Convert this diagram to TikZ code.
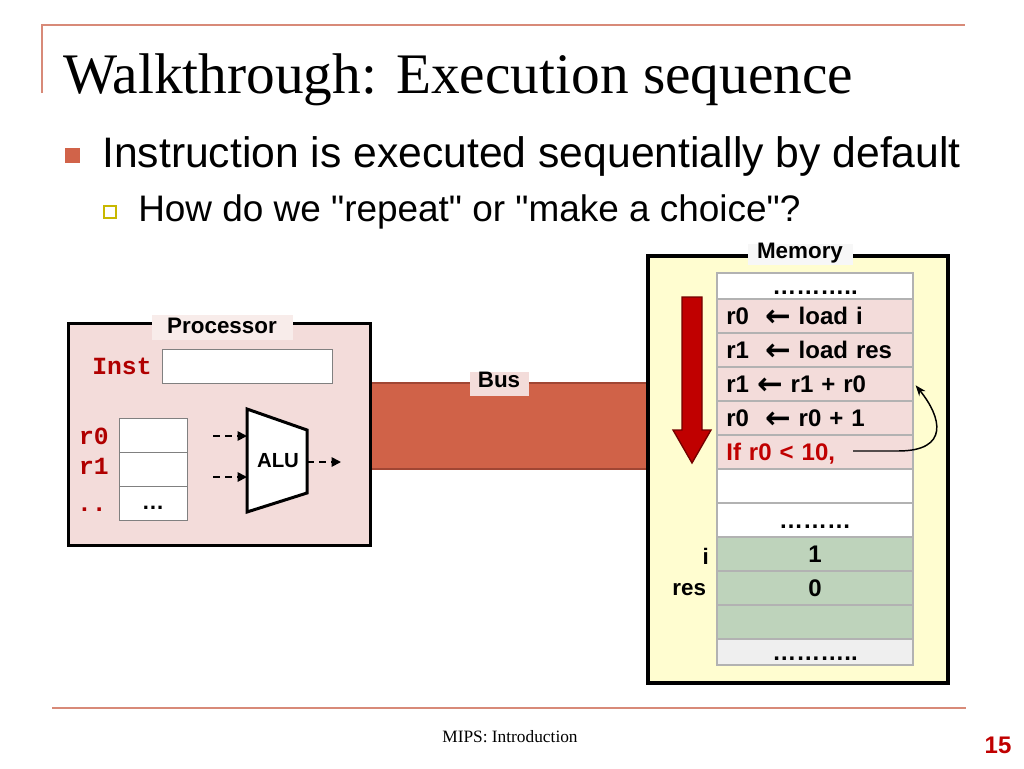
\documentclass[tikz,border=0pt]{standalone}
\usepackage{fontspec}
\setmainfont{Liberation Serif}
\setsansfont{Liberation Sans}
\setmonofont{Liberation Mono}
\newfontfamily\arrowfont{DejaVu Sans}
\usetikzlibrary{positioning,arrows.meta}
\definecolor{LineOrange}{RGB}{216,138,120}
\definecolor{BulletRed}{RGB}{209,99,73}
\definecolor{SubYellow}{RGB}{200,184,0}
\definecolor{ProcPink}{RGB}{243,220,218}
\definecolor{TabPink}{RGB}{248,236,234}
\definecolor{BusOrange}{RGB}{208,98,72}
\definecolor{BusEdge}{RGB}{160,70,52}
\definecolor{MemYellow}{RGB}{255,253,208}
\definecolor{CellGreen}{RGB}{190,211,187}
\definecolor{CellGray}{RGB}{239,239,239}
\definecolor{InstRed}{RGB}{176,0,0}
\definecolor{ArrowRed}{RGB}{192,0,0}
\newcommand\larr{\raisebox{-1.5pt}{\arrowfont\fontsize{23}{23}\selectfont ←}}
\begin{document}
\begin{tikzpicture}[x=0.75pt,y=-0.75pt,
    lbl/.style={font=\sffamily\bfseries\fontsize{16.8}{20}\selectfont, inner sep=0},
    reglbl/.style={font=\ttfamily\bfseries\fontsize{18.5}{22}\selectfont, text=InstRed, inner sep=0},
    cell/.style={draw=gray!60, line width=1pt, text width=133pt, inner xsep=7pt, inner ysep=0, outer sep=0pt,
        minimum height=25.5pt, text height=15pt, text depth=3pt, align=center,
        font=\sffamily\bfseries\fontsize{18}{21}\selectfont},
    dasharrow/.style={line width=1.3pt, dash pattern=on 5pt off 4pt, -{Triangle[length=7pt,width=7pt]}}]
    \useasboundingbox (0,0) rectangle (1024,768);
    % header
    \draw[LineOrange, line width=1.5pt] (42,93) -- (42,25) -- (965,25);
    \node[anchor=base west, inner sep=0, font=\fontsize{43}{50}\selectfont] (Title) at (63,93) {Walkthrough: Execution sequence};
    \fill[BulletRed] (65,148) rectangle (80,163);
    \node[anchor=base west, inner sep=0, font=\sffamily\fontsize{32}{38}\selectfont] (PointA) at (102,167) {Instruction is executed sequentially by default};
    \draw[SubYellow, line width=1.3pt] (104,206) rectangle (116,218);
    \node[anchor=base west, inner sep=0, font=\sffamily\fontsize{27.7}{34}\selectfont] (PointB) at (138,221)
        {How do we \textquotedbl repeat\textquotedbl\ or \textquotedbl make a choice\textquotedbl ?};
    % bus
    \fill[BusOrange] (360,383) rectangle (660,469);
    \draw[BusEdge, line width=1.5pt] (360,383) -- (660,383) (360,469) -- (660,469);
    \fill[ProcPink] (470,372) rectangle (529,396);
    \node[lbl, anchor=base] (BusLbl) at (499,387) {Bus};
    % processor
    \draw[fill=ProcPink, line width=2.25pt] (68,323) rectangle (370,545);
    \fill[TabPink] (152,315) rectangle (293,340);
    \node[lbl, anchor=base] (ProcLbl) at (222,333) {Processor};
    \node[reglbl] (InstLbl) at (122,366) {Inst};
    \draw[fill=white, draw=gray] (162,349) rectangle (332,383);
    \foreach \r/\y in {0/418,1/452,2/486}
        \draw[fill=white, draw=gray] (119,\y) rectangle (187,\y+34);
    \node[reglbl] (RegZero) at (94,436) {r0};
    \node[reglbl] (RegOne) at (94,466) {r1};
    \node[reglbl, anchor=base] (RegMore) at (92,511) {..};
    \node[lbl] (RegDots) at (153,508) {…};
    % alu
    \draw[fill=white, line width=2.25pt] (247,409) -- (307,430) -- (307,493) -- (247,512) -- cycle;
    \node[lbl, font=\sffamily\bfseries\fontsize{15.3}{18}\selectfont] (ALU) at (278,461) {ALU};
    \coordinate (AluInA) at (247,436);
    \coordinate (AluInB) at (247,477);
    \coordinate (AluOut) at (307,462);
    \draw[dasharrow] (213,436) -- (AluInA);
    \draw[dasharrow] (213,477) -- (AluInB);
    \draw[dasharrow] (AluOut) -- (341,462);
    % memory
    \draw[fill=MemYellow, line width=2.5pt] (648,256) rectangle (948,683);
    \fill[white!94!gray] (748,244) rectangle (853,265);
    \node[lbl, anchor=base] (MemLbl) at (800,258) {Memory};
    \node[cell, fill=white, minimum height=19.5pt] (m1) at (815,286) {………..};
    \node[cell, fill=ProcPink, align=left, below=0pt of m1] (m2) {r0\ \ \larr\ load i};
    \node[cell, fill=ProcPink, align=left, below=0pt of m2] (m3) {r1\ \ \larr\ load res};
    \node[cell, fill=ProcPink, align=left, below=0pt of m3] (m4) {r1 \larr\ r1 + r0};
    \node[cell, fill=ProcPink, align=left, below=0pt of m4] (m5) {r0\ \ \larr\ r0 + 1};
    \node[cell, fill=ProcPink, align=left, text=ArrowRed, below=0pt of m5] (m6) {If r0 < 10,};
    \node[cell, fill=white, below=0pt of m6] (m7) {};
    \node[cell, fill=white, below=0pt of m7] (m8) {………};
    \node[cell, fill=CellGreen, below=0pt of m8] (m9) {1};
    \node[cell, fill=CellGreen, below=0pt of m9] (m10) {0};
    \node[cell, fill=CellGreen, below=0pt of m10] (m11) {};
    \node[cell, fill=CellGray, minimum height=19.5pt, below=0pt of m11] (m12) {………..};
    \node[lbl, anchor=east] (VarI) at ([xshift=-6pt,yshift=-1.5pt]m9.west) {i};
    \node[lbl, anchor=east] (VarRes) at ([xshift=-8pt,yshift=-1.5pt]m10.west) {res};
    % flow arrows
    \draw[fill=ArrowRed, draw=ArrowRed!60!black, line width=1pt]
        (682,297) -- (702,297) -- (702,430) -- (711,430) -- (692,463) -- (673,430) -- (682,430) -- cycle;
    \coordinate (LoopStart) at (853,451);
    \coordinate (LoopEnd) at ([xshift=2pt,yshift=-1pt]m4.east);
    \draw[line width=1.1pt, -{Stealth[length=8pt,width=6pt]}] (LoopStart) -- ++(45,0)
        .. controls +(52,0) and +(26,32) .. (LoopEnd);
    % footer
    \draw[LineOrange, line width=1.5pt] (52,708) -- (966,708);
    \node[anchor=base, inner sep=0, font=\fontsize{13}{15}\selectfont] (Footer) at (510,742) {MIPS: Introduction};
    \node[anchor=base, inner sep=0, text=ArrowRed, font=\sffamily\bfseries\fontsize{18}{21}\selectfont] (PageNo) at (998,753) {15};
\end{tikzpicture}
\end{document}
